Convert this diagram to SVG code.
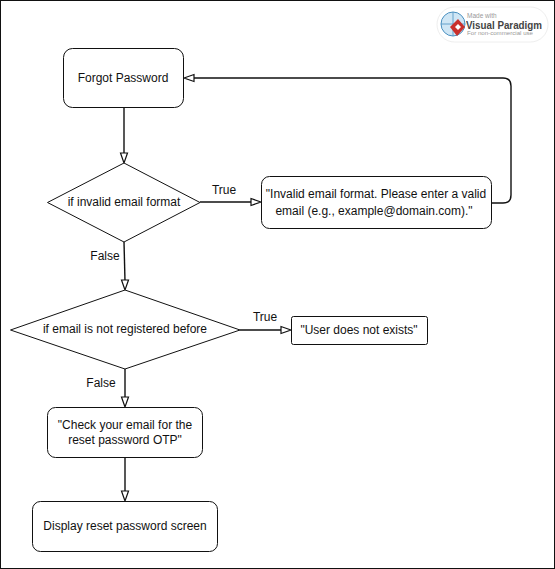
<svg xmlns="http://www.w3.org/2000/svg" width="555" height="569" viewBox="0 0 555 569">
<style>
text{font-family:"Liberation Sans",Arial,sans-serif;font-size:12px;fill:#111;text-anchor:middle}
.s{fill:#fff;stroke:#111;stroke-width:1}
.c{fill:none;stroke:#111;stroke-width:1.4}
.h{fill:#fff;stroke:#111;stroke-width:1.2}
</style>
<rect x="0.5" y="0.5" width="554" height="568" fill="#fff" stroke="#111"/>
<g id="connectors">
<path class="c" d="M124 108V154"/><path class="h" d="M124 163l-3.500-10h7z"/>
<path class="c" d="M124 242L125 281"/><path class="h" d="M125 290l-3.500-10h7z"/>
<path class="c" d="M125 369V398"/><path class="h" d="M125 407l-3.500-10h7z"/>
<path class="c" d="M125 458V492"/><path class="h" d="M125 501l-3.500-10h7z"/>
<path class="c" d="M200 202H252"/><path class="h" d="M261 202l-10-3.500v7z"/>
<path class="c" d="M240 330H283"/><path class="h" d="M291 330l-10-3.500v7z"/>
<path class="c" d="M492 203H503Q511 203 511 195V86Q511 78 503 78H193"/><path class="h" d="M184 78l10-3.500v7z"/>
<text x="224" y="194">True</text>
<text x="105" y="260">False</text>
<text x="265" y="321">True</text>
<text x="101" y="387">False</text>
</g>
<g id="forgot"><rect class="s" x="63.500" y="48.500" width="120" height="59" rx="9"/><text x="123" y="82">Forgot Password</text></g>
<g id="invalid-check"><path class="s" d="M124 163L200 202.500L124 242L47.500 202.500Z"/><text x="124" y="206">if invalid email format</text></g>
<g id="invalid-msg"><rect class="s" x="261.500" y="176.500" width="230" height="52" rx="8"/><text x="376" y="198">"Invalid email format. Please enter a valid</text><text x="374" y="215">email (e.g., example@domain.com)."</text></g>
<g id="registered-check"><path class="s" d="M125 290L240 330L125 369L10.500 330Z"/><text x="125" y="333">if email is not registered before</text></g>
<g id="not-exists"><rect class="s" x="291.500" y="316.500" width="136" height="28" rx="2"/><text x="359" y="334">"User does not exists"</text></g>
<g id="check-email"><rect class="s" x="47.500" y="407.500" width="155" height="50" rx="8"/><text x="125" y="429">"Check your email for the</text><text x="125" y="444">reset password OTP"</text></g>
<g id="display-reset"><rect class="s" x="32.500" y="501.500" width="185" height="50" rx="8"/><text x="125" y="530">Display reset password screen</text></g>
<g id="watermark">
<rect x="437" y="7" width="111" height="35" rx="17.500" fill="#fff" stroke="#eee"/>
<circle cx="453" cy="24" r="12" fill="#cfe6f5" stroke="#4a90c0"/>
<path d="M441 24H465M453 12V36" stroke="#4a90c0" stroke-width="0.800"/>
<path d="M458 19l7 8-8 9-7-9z" fill="#c9302c"/>
<path d="M458 24l3 3-3 3-3-3z" fill="#fff"/>
<text x="467" y="18" style="font-size:6.500px;text-anchor:start;fill:#999">Made with</text>
<text x="466" y="29" textLength="76" lengthAdjust="spacingAndGlyphs" style="font-size:11px;font-weight:bold;text-anchor:start;fill:#444">Visual Paradigm</text>
<text x="467" y="35" textLength="66" lengthAdjust="spacingAndGlyphs" style="font-size:6px;text-anchor:start;fill:#999">For non-commercial use</text>
</g>
</svg>
